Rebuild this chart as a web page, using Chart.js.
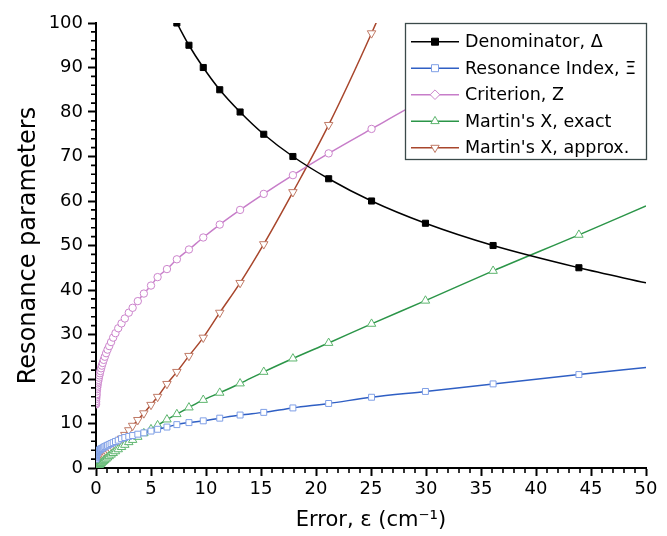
<!DOCTYPE html>
<html><head><meta charset="utf-8">
<script src="https://cdn.jsdelivr.net/npm/chart.js@4.4.1/dist/chart.umd.min.js"></script>
<style>html,body{margin:0;padding:0;background:#fff;}#wrap{width:667px;height:536px;}</style>
</head><body><div id="wrap"><canvas id="c" width="667" height="536"></canvas></div>
<script>
// ---- data ----
const epsilon = [0.002,0.005,0.01,0.02,0.03,0.04,0.05,0.07,0.09,0.11,0.13,0.16,0.19,0.22,0.26,0.3,0.35,0.4,0.46,0.53,0.61,0.7,0.8,0.92,1.05,1.2,1.37,1.56,1.77,2.02,2.32,2.62,2.98,3.33,3.8,4.35,5.0,5.6,6.45,7.35,8.45,9.75,11.25,13.1,15.25,17.9,21.15,25.05,29.95,36.1,43.9,50];
const denominator = [null,null,null,null,null,null,null,null,null,null,null,null,null,null,null,null,null,null,null,null,null,null,null,null,null,null,null,null,null,null,null,null,null,null,null,null,null,null,null,100,95,90,85,80,75,70,65,60,55,50,45,41.6];
const resonanceIndex = [2.0,2.3,2.5,2.7,2.85,2.95,3.05,3.2,3.35,3.45,3.55,3.65,3.75,3.85,3.95,4.0,4.1,4.2,4.3,4.4,4.5,4.65,4.8,4.95,5.1,5.3,5.5,5.7,5.95,6.25,6.6,6.85,7.1,7.3,7.6,7.9,8.3,8.7,9.2,9.75,10.2,10.6,11.2,11.9,12.5,13.5,14.5,15.9,17.2,18.9,21.0,22.6];
const criterionZ = [14.3,14.6,15.0,15.5,15.9,16.3,16.6,17.2,17.7,18.1,18.5,19.0,19.4,19.8,20.3,20.8,21.3,21.8,22.4,23.0,23.6,24.3,25.0,25.8,26.6,27.4,28.3,29.3,30.3,31.4,32.5,33.6,34.9,36.0,37.5,39.2,41.0,42.9,44.7,46.9,49.1,51.8,54.7,58.0,61.6,65.8,70.7,76.2,83.0,91.0,100.5,107];
const martinExact = [0.0,0.01,0.02,0.04,0.07,0.09,0.11,0.16,0.2,0.25,0.3,0.37,0.44,0.5,0.6,0.7,0.82,0.93,1.07,1.22,1.4,1.6,1.82,2.07,2.35,2.65,3.0,3.35,3.75,4.2,4.7,5.2,5.8,6.3,7.0,7.8,8.7,9.6,10.9,12.1,13.6,15.3,16.9,19.0,21.6,24.6,28.1,32.4,37.6,44.3,52.4,58.9];
const martinApprox = [0.02,0.05,0.08,0.13,0.18,0.22,0.26,0.34,0.41,0.48,0.55,0.65,0.75,0.84,0.96,1.08,1.22,1.36,1.53,1.72,1.94,2.18,2.45,2.78,3.12,3.52,3.98,4.5,5.05,5.75,6.6,7.45,8.5,9.5,10.8,12.3,14.2,16.0,18.9,21.6,25.2,29.3,34.9,41.6,50.3,62.0,77.1,97.7,126,null,null,null];
const seriesNames = ["Denominator, \u0394","Resonance Index, \u039E","Criterion, Z","Martin's X, exact","Martin's X, approx."];
const xTickValues = [0,5,10,15,20,25,30,35,40,45,50];
const xTickLabels = ["0","5","10","15","20","25","30","35","40","45","50"];
const yTickValues = [0,10,20,30,40,50,60,70,80,90,100];
const yTickLabels = ["0","10","20","30","40","50","60","70","80","90","100"];

// ---- styling ----
const FONT = '"DejaVu Sans", Verdana, sans-serif';
const styles = [
  {line:'#000000', mk:'#000000', fill:'#000000', style:'rect', r:4.3, rot:0, leg:'square', legR:3.5},
  {line:'#2f5fc4', mk:'#7f9fe6', fill:'#ffffff', style:'rect', r:4.2, rot:0, leg:'square', legR:3.5},
  {line:'#c77dc9', mk:'#cc84cc', fill:'#ffffff', style:'circle', r:3.7, rot:0, leg:'diamond', legR:4.8},
  {line:'#2b9548', mk:'#5db56e', fill:'#ffffff', style:'triangle', r:4.9, rot:0, leg:'up', legR:4.8},
  {line:'#a8462c', mk:'#c07a66', fill:'#ffffff', style:'triangle', r:4.9, rot:180, leg:'down', legR:4.8}
];
const values = [denominator, resonanceIndex, criterionZ, martinExact, martinApprox];
const last = epsilon.length - 1;

const datasets = values.map((vals, i) => ({
  label: seriesNames[i],
  data: epsilon.map((e, k) => ({x: e, y: vals[k]})),
  borderColor: styles[i].line,
  borderWidth: 1.5,
  pointStyle: styles[i].style,
  pointRotation: styles[i].rot,
  pointRadius: ctx => ctx.dataIndex === last ? 0 : styles[i].r,
  pointBorderColor: styles[i].mk,
  pointBackgroundColor: styles[i].fill,
  pointBorderWidth: 1,
  cubicInterpolationMode: 'monotone',
  spanGaps: false,
  fill: false
}));

const minorTicks = {
  id: 'minorTicks',
  afterDraw(chart) {
    const {ctx, scales: {x, y}, chartArea: a} = chart;
    ctx.save();
    ctx.strokeStyle = '#000';
    ctx.lineWidth = 1.6;
    ctx.beginPath();
    for (let v = 0; v <= 50; v += 1) {
      if (v % 5 === 0) continue;
      const px = x.getPixelForValue(v);
      ctx.moveTo(px, a.bottom); ctx.lineTo(px, a.bottom + 5);
    }
    for (let v = 0; v <= 100; v += 2) {
      if (v % 10 === 0) continue;
      const py = y.getPixelForValue(v);
      ctx.moveTo(a.left, py); ctx.lineTo(a.left - 5, py);
    }
    ctx.stroke();
    ctx.restore();
  }
};

function legendMarker(ctx, kind, cx, cy, r) {
  ctx.beginPath();
  if (kind === 'square') ctx.rect(cx - r, cy - r, 2 * r, 2 * r);
  else if (kind === 'diamond') { ctx.moveTo(cx, cy - r); ctx.lineTo(cx + r, cy); ctx.lineTo(cx, cy + r); ctx.lineTo(cx - r, cy); ctx.closePath(); }
  else if (kind === 'up') { ctx.moveTo(cx, cy - r); ctx.lineTo(cx + r * 0.87, cy + r * 0.5); ctx.lineTo(cx - r * 0.87, cy + r * 0.5); ctx.closePath(); }
  else { ctx.moveTo(cx, cy + r); ctx.lineTo(cx + r * 0.87, cy - r * 0.5); ctx.lineTo(cx - r * 0.87, cy - r * 0.5); ctx.closePath(); }
  ctx.fill(); ctx.stroke();
}

const boxLegend = {
  id: 'boxLegend',
  afterDatasetsDraw(chart) {
    const {ctx, chartArea: a} = chart;
    const w = 242, h = 137;
    const left = a.right - w + 1, top = a.top;
    ctx.save();
    ctx.fillStyle = '#ffffff';
    ctx.fillRect(left, top, w, h);
    ctx.strokeStyle = '#3b4a4a';
    ctx.lineWidth = 1.3;
    ctx.strokeRect(left + 0.5, top + 0.5, w - 1, h - 1);
    chart.data.datasets.forEach((ds, i) => {
      const yy = top + 18.7 + 26.5 * i;
      ctx.strokeStyle = ds.borderColor;
      ctx.lineWidth = 1.5;
      ctx.beginPath(); ctx.moveTo(left + 6, yy); ctx.lineTo(left + 54, yy); ctx.stroke();
      ctx.fillStyle = styles[i].fill;
      ctx.strokeStyle = styles[i].mk;
      ctx.lineWidth = 1;
      legendMarker(ctx, styles[i].leg, left + 30, yy, styles[i].legR);
      ctx.fillStyle = '#000';
      ctx.font = '17.5px ' + FONT;
      ctx.textBaseline = 'middle';
      ctx.textAlign = 'left';
      ctx.fillText(ds.label, left + 60, yy + 1);
    });
    ctx.restore();
  }
};

new Chart(document.getElementById('c'), {
  type: 'line',
  data: {datasets},
  plugins: [minorTicks, boxLegend],
  options: {
    responsive: false,
    animation: false,
    devicePixelRatio: 1,
    layout: {padding: {top: 23, right: 21, left: 0, bottom: 0}},
    plugins: {legend: {display: false}, tooltip: {enabled: false}},
    elements: {line: {tension: 0}},
    scales: {
      x: {
        type: 'linear', min: 0, max: 50,
        afterFit(s) { s.height = 68; },
        afterBuildTicks(s) { s.ticks = xTickValues.map(v => ({value: v})); },
        ticks: {color: '#000', font: {family: FONT, size: 18}, padding: 3, maxRotation: 0, autoSkip: false,
                callback: (v, i) => xTickLabels[i]},
        grid: {drawOnChartArea: false, drawTicks: true, tickLength: 8, tickWidth: 2, tickColor: '#000'},
        border: {color: '#000', width: 2},
        title: {display: true, text: 'Error, \u03B5 (cm\u207B\u00B9)', color: '#000',
                font: {family: FONT, size: 21}, padding: {top: 0, bottom: 3}}
      },
      y: {
        type: 'linear', min: 0, max: 100,
        afterFit(s) { s.width = 96; },
        afterBuildTicks(s) { s.ticks = yTickValues.map(v => ({value: v})); },
        ticks: {color: '#000', font: {family: FONT, size: 18}, padding: 5, autoSkip: false,
                callback: (v, i) => yTickLabels[i]},
        grid: {drawOnChartArea: false, drawTicks: true, tickLength: 8, tickWidth: 2, tickColor: '#000'},
        border: {color: '#000', width: 2},
        title: {display: true, text: 'Resonance parameters', color: '#000',
                font: {family: FONT, size: 24}, padding: {top: 14, bottom: 0}}
      }
    }
  }
});
</script>
</body></html>
